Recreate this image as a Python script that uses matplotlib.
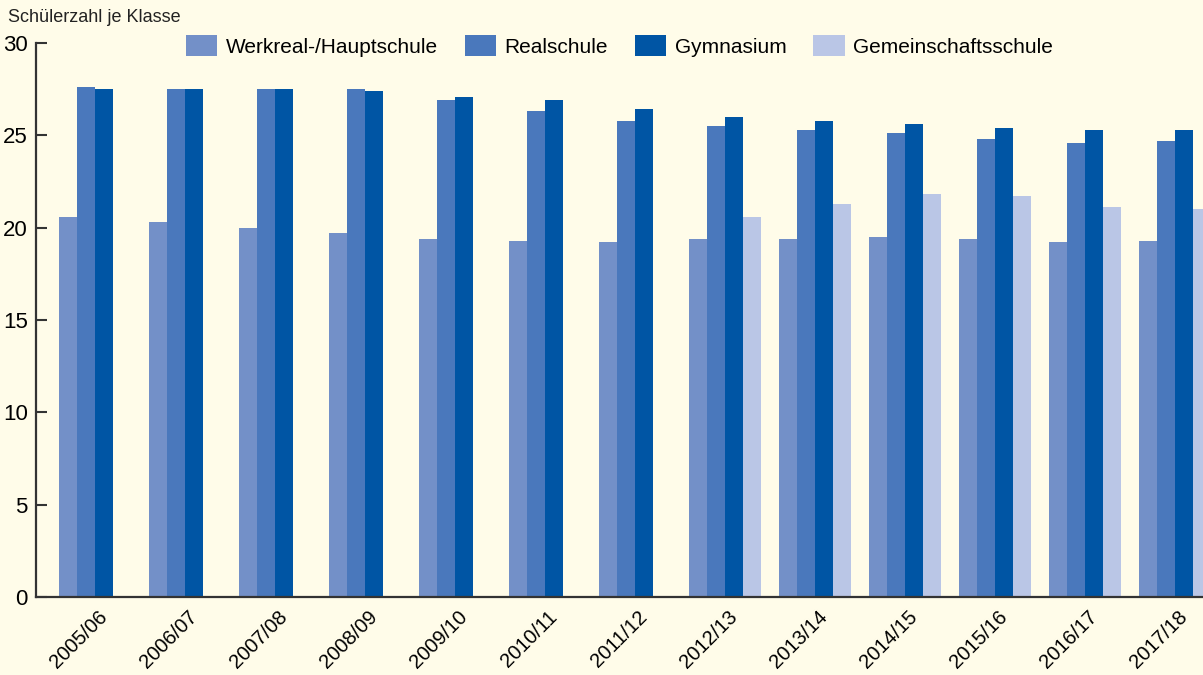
import matplotlib
matplotlib.use("Agg")
import matplotlib.pyplot as plt
import matplotlib.transforms as mtransforms
import numpy as np

# ===== Data =====
years = ["2005/06", "2006/07", "2007/08", "2008/09", "2009/10", "2010/11", "2011/12",
         "2012/13", "2013/14", "2014/15", "2015/16", "2016/17", "2017/18"]
werkreal = [20.6, 20.3, 20.0, 19.7, 19.4, 19.3, 19.2, 19.4, 19.4, 19.5, 19.4, 19.2, 19.3]
realschule = [27.6, 27.5, 27.5, 27.5, 26.9, 26.3, 25.8, 25.5, 25.3, 25.1, 24.8, 24.6, 24.7]
gymnasium = [27.5, 27.5, 27.5, 27.4, 27.1, 26.9, 26.4, 26.0, 25.8, 25.6, 25.4, 25.3, 25.3]
gemeinschaft = [None, None, None, None, None, None, None, 20.6, 21.3, 21.8, 21.7, 21.1, 21.0]

series = [
    ("Werkreal-/Hauptschule", werkreal, "#7390c8"),
    ("Realschule", realschule, "#4a78bc"),
    ("Gymnasium", gymnasium, "#0055a4"),
    ("Gemeinschaftsschule", gemeinschaft, "#bac6e6"),
]

bg = "#fffce9"
dark = "#333333"
plt.rcParams['font.family'] = ['Liberation Sans', 'DejaVu Sans']

# ===== Figure =====
fig = plt.figure(figsize=(12.03, 6.75), dpi=100, facecolor=bg)
ax = fig.add_axes([36 / 1203, 1 - 597 / 675, 1 - 36 / 1203, (597 - 43) / 675])
ax.set_facecolor(bg)

x = np.arange(len(years))
w = 0.2
handles = []
for k, (name, vals, col) in enumerate(series):
    xs = [xi + (k - 1.5) * w for xi, v in zip(x, vals) if v is not None]
    vs = [v for v in vals if v is not None]
    b = ax.bar(xs, vs, width=w, color=col, label=name, linewidth=0)
    handles.append(b)

ax.set_xlim(-0.656, 12.31)
ax.set_ylim(0, 30)
ax.set_yticks([0, 5, 10, 15, 20, 25, 30])
ax.set_xticks(x)
ax.set_xticklabels(years, rotation=45, ha='right', va='center', rotation_mode='anchor', fontsize=14.5)
ax.tick_params(axis='x', length=0, pad=12)
ax.tick_params(axis='y', direction='in', length=8, width=1.5, color=dark, labelsize=16, pad=6)

# nudge the rotated year labels a bit to the right
shift = mtransforms.ScaledTranslation(9 / 100, 0, fig.dpi_scale_trans)
for lab in ax.get_xticklabels():
    lab.set_transform(lab.get_transform() + shift)

for s in ['top', 'right']:
    ax.spines[s].set_visible(False)
for s in ['left', 'bottom']:
    ax.spines[s].set_color(dark)
    ax.spines[s].set_linewidth(1.6)

fig.text(8 / 1203, 1 - 17 / 675, "Schülerzahl je Klasse", fontsize=13, va='center', ha='left', color='#222222')

fig.legend(handles=handles, loc='center left', bbox_to_anchor=(186 / 1203, 1 - 46 / 675),
           ncol=4, frameon=False, fontsize=15, handlelength=1.5, handleheight=1.15,
           handletextpad=0.4, columnspacing=1.3, borderpad=0, borderaxespad=0)

fig.savefig("out.png", dpi=100, facecolor=bg)
